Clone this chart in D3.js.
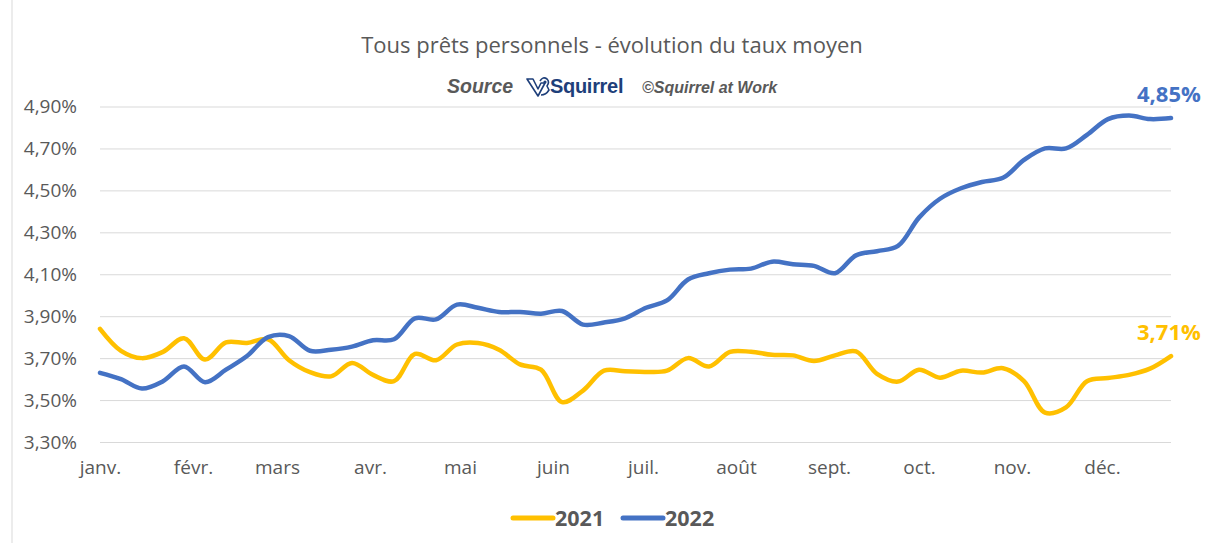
<!DOCTYPE html>
<html lang="fr">
  <head>
    <meta charset="utf-8">
    <title>Tous prêts personnels - évolution du taux moyen</title>
    <style>
    body {margin: 0; background: #fff;}
    .axis path {display: none;}
    .axis line {stroke: #d9d9d9;}
    .axis text {fill: #595959; font-family: "Open Sans", sans-serif; font-size: 19px;}
    </style>
  </head>
  <body>
    <div id="my_dataviz"></div>

    <script src="https://d3js.org/d3.v7.min.js"></script>
    <script>
      // values, one point per week
      var monthLabels = ["janv.", "févr.", "mars", "avr.", "mai", "juin", "juil.", "août", "sept.", "oct.", "nov.", "déc."];
      var yTicks = [3.30, 3.50, 3.70, 3.90, 4.10, 4.30, 4.50, 4.70, 4.90];
      var seriesNames = ["2021", "2022"];

      var rate2021 = [3.84, 3.735, 3.70, 3.73, 3.795, 3.693, 3.775, 3.772, 3.79, 3.69,
                      3.633, 3.613, 3.677, 3.62, 3.59, 3.72, 3.69, 3.765, 3.772, 3.74,
                      3.67, 3.645, 3.49, 3.545, 3.64, 3.637, 3.634, 3.64, 3.70, 3.66,
                      3.73, 3.73, 3.716, 3.713, 3.686, 3.713, 3.732, 3.625, 3.588, 3.645,
                      3.607, 3.64, 3.631, 3.652, 3.59, 3.44, 3.465, 3.59, 3.605, 3.62,
                      3.65, 3.71];

      var rate2022 = [3.63, 3.60, 3.555, 3.59, 3.66, 3.585, 3.645, 3.71, 3.80, 3.805,
                      3.735, 3.74, 3.755, 3.785, 3.79, 3.89, 3.885, 3.955, 3.94, 3.92,
                      3.92, 3.912, 3.925, 3.86, 3.87, 3.89, 3.94, 3.975, 4.075, 4.105,
                      4.122, 4.127, 4.16, 4.148, 4.14, 4.105, 4.19, 4.21, 4.235, 4.37,
                      4.46, 4.51, 4.54, 4.56, 4.645, 4.70, 4.70, 4.765, 4.84, 4.857,
                      4.84, 4.845];

      var lastLabels = ["3,71%", "4,85%"];
      var colors = ["#FFC000", "#4472C4"];

      var width = 1206, height = 543;
      var svg = d3.select("#my_dataviz")
        .append("svg")
          .attr("width", width)
          .attr("height", height)
          .style("display", "block");

      // chart frame line on the left
      svg.append("line")
        .attr("x1", 12).attr("x2", 12)
        .attr("y1", 0).attr("y2", height)
        .attr("stroke", "#d9d9d9");

      var start = new Date(2022, 0, 1);
      var dates = rate2021.map(function(d, i) { return d3.timeDay.offset(start, 7 * i); });

      var x = d3.scaleTime()
        .domain([dates[0], dates[dates.length - 1]])
        .range([100, 1171]);

      var y = d3.scaleLinear()
        .domain([3.30, 4.90])
        .range([442, 106.5]);

      // gridlines
      svg.append("g")
        .attr("class", "axis")
        .attr("transform", "translate(100,0)")
        .call(d3.axisLeft(y).tickValues(yTicks).tickSize(-1071).tickFormat(""));

      // y labels
      svg.append("g")
        .attr("class", "axis")
        .attr("transform", "translate(100,0)")
        .call(d3.axisLeft(y).tickValues(yTicks).tickSize(0).tickPadding(23)
          .tickFormat(function(d) { return d3.format(".2f")(d).replace(".", ",") + "%"; }));

      // month labels
      var months = d3.timeMonth.range(new Date(2022, 0, 1), new Date(2023, 0, 1));
      svg.append("g")
        .attr("class", "axis")
        .attr("transform", "translate(0,442)")
        .call(d3.axisBottom(x).tickValues(months).tickSize(0).tickPadding(19)
          .tickFormat(function(d, i) { return monthLabels[i]; }));

      var line = d3.line()
        .x(function(d, i) { return x(dates[i]); })
        .y(function(d) { return y(d); })
        .curve(d3.curveCatmullRom.alpha(0.5));

      [rate2021, rate2022].forEach(function(s, k) {
        svg.append("path")
          .datum(s)
          .attr("fill", "none")
          .attr("stroke", colors[k])
          .attr("stroke-width", 4.5)
          .attr("stroke-linecap", "round")
          .attr("stroke-linejoin", "round")
          .attr("d", line);

        svg.append("text")
          .attr("x", 1137)
          .attr("y", y(s[s.length - 1]) - 16)
          .attr("fill", colors[k])
          .style("font-family", "'Open Sans', sans-serif")
          .style("font-weight", "bold")
          .style("font-size", "22px")
          .text(lastLabels[k]);
      });

      // title
      svg.append("text")
        .attr("x", 612)
        .attr("y", 53)
        .attr("text-anchor", "middle")
        .attr("fill", "#595959")
        .style("font-family", "'Open Sans', sans-serif")
        .style("font-size", "22px")
        .text("Tous prêts personnels - évolution du taux moyen");

      // source line
      var src = svg.append("g").attr("transform", "translate(0,93)");
      src.append("text")
        .attr("x", 447)
        .attr("fill", "#595959")
        .style("font-family", "'Liberation Sans', Arial, sans-serif")
        .style("font-style", "italic")
        .style("font-weight", "bold")
        .style("font-size", "19.5px")
        .text("Source");

      var logo = src.append("g")
        .attr("transform", "translate(526,-16)")
        .attr("fill", "none")
        .attr("stroke", "#1e3f7a")
        .attr("stroke-width", 1.6)
        .attr("stroke-linejoin", "round");
      logo.append("path").attr("d", "M1,2 L7,2 L12,12 L15,6 L19,6 L12,19 Z");
      logo.append("path").attr("d", "M14,4 Q17,-1 21,2 Q24,5 21,9 L23,13 Q20,18 15,18");
      logo.append("circle").attr("cx", 19).attr("cy", 5).attr("r", 0.8).attr("fill", "#1e3f7a");

      src.append("text")
        .attr("x", 550)
        .attr("fill", "#1e3f7a")
        .style("font-family", "'Liberation Sans', Arial, sans-serif")
        .style("font-weight", "bold")
        .style("font-size", "20px")
        .style("letter-spacing", "-0.3px")
        .text("Squirrel");

      src.append("text")
        .attr("x", 642)
        .attr("fill", "#595959")
        .style("font-family", "'Liberation Sans', Arial, sans-serif")
        .style("font-style", "italic")
        .style("font-weight", "bold")
        .style("font-size", "16px")
        .text("©Squirrel at Work");

      // legend
      var legend = svg.append("g").attr("transform", "translate(0,518)");
      var legX = [513, 623];
      seriesNames.forEach(function(name, k) {
        legend.append("line")
          .attr("x1", legX[k]).attr("x2", legX[k] + 40)
          .attr("stroke", colors[k])
          .attr("stroke-width", 5)
          .attr("stroke-linecap", "round");
        legend.append("text")
          .attr("x", legX[k] + 42)
          .attr("y", 8)
          .attr("fill", "#595959")
          .style("font-family", "'Open Sans', sans-serif")
          .style("font-weight", "bold")
          .style("font-size", "21.5px")
          .text(name);
      });
    </script>
  </body>
</html>
